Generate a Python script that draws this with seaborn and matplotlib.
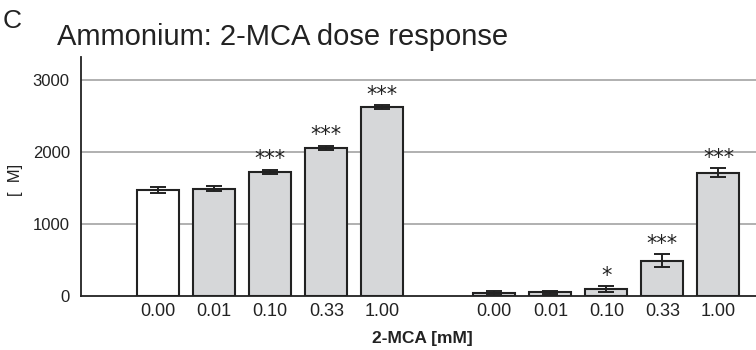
import matplotlib
matplotlib.use("Agg")
import matplotlib.pyplot as plt
import seaborn as sns
import pandas as pd
import numpy as np

doses = ["0.00", "0.01", "0.10", "0.33", "1.00"]
group1_values = [1475, 1490, 1722, 2055, 2625]
group1_errors = [40, 35, 30, 30, 25]
group1_sig = ["", "", "***", "***", "***"]
group2_values = [45, 50, 95, 490, 1715]
group2_errors = [25, 25, 40, 90, 60]
group2_sig = ["", "", "*", "***", "***"]

sns.set_theme(style="white")
plt.rcParams['font.family'] = ['Liberation Sans', 'DejaVu Sans']

slots = [f"a{i}" for i in range(5)] + ["gap"] + [f"b{i}" for i in range(5)]
df = pd.DataFrame({
    "slot": [f"a{i}" for i in range(5)] + [f"b{i}" for i in range(5)],
    "value": group1_values + group2_values,
})
errs = group1_errors + group2_errors
sigs = group1_sig + group2_sig

fig = plt.figure(figsize=(7.56, 3.5), dpi=100)
ax = fig.add_axes([0.107, 0.154, 0.893, 0.683])

sns.barplot(data=df, x="slot", y="value", order=slots, width=0.75,
            color="#d6d7d9", edgecolor="#222222", linewidth=1.5, ax=ax, zorder=3)
patches = [p for p in ax.patches]
patches[0].set_facecolor("white")

xs = [slots.index(s) for s in df["slot"]]
ax.errorbar(xs, df["value"], yerr=errs, fmt="none", ecolor="#222222",
            elinewidth=1.4, capsize=5.5, capthick=1.4, zorder=4)
for x, v, e, s in zip(xs, df["value"], errs, sigs):
    if s:
        ax.text(x, v + e + 10, s, ha="center", va="bottom", fontsize=15,
                family="DejaVu Sans", color="#222222")

ax.set_xlim(-1.38, 10.67)
ax.set_ylim(0, 3320)
ax.set_yticks([0, 1000, 2000, 3000])
ax.set_yticklabels(["0", "1000", "2000", "3000"], fontsize=12, color="#222222")
ax.set_xticks(range(len(slots)))
ax.set_xticklabels([doses[int(s[1])] if s != "gap" else "" for s in slots],
                   fontsize=13, color="#222222")
ax.tick_params(axis="y", length=0, pad=8)
ax.tick_params(axis="x", length=0, pad=5)
ax.yaxis.grid(True, color="#b0b0b0", linewidth=1.4, zorder=0)
for g in ax.get_ygridlines()[:1]:
    g.set_visible(False)
ax.set_axisbelow(True)
for side in ["top", "right"]:
    ax.spines[side].set_visible(False)
for side in ["left", "bottom"]:
    ax.spines[side].set_color("#222222")
    ax.spines[side].set_linewidth(1.3)
ax.set_xlabel("2-MCA [mM]", fontsize=12.5, fontweight="bold", color="#222222")
ax.xaxis.set_label_coords(0.506, -0.145)
ax.set_ylabel("[  M]", fontsize=12, color="#222222")
ax.yaxis.set_label_coords(-0.086, 0.485)

fig.text(0.003, 0.975, "C", fontsize=19, va="top", ha="left", color="#222222")
fig.text(0.075, 0.935, "Ammonium: 2-MCA dose response", fontsize=21, va="top", ha="left", color="#222222")

fig.savefig("out.png", dpi=100)
